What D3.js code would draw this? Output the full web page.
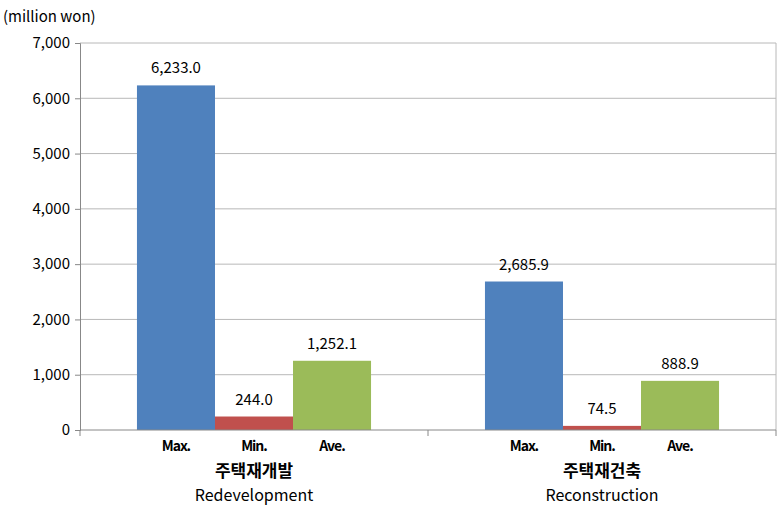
<!DOCTYPE html>
<html>
<head>
<meta charset="UTF-8">
<style>
  body { margin: 0; background: #fff; }
  text { font-family: "Noto Sans CJK KR", "Noto Sans", sans-serif; fill: #000; }
</style>
</head>
<body>
<svg></svg>
<script src="https://d3js.org/d3.v7.min.js"></script>
<script>
const width = 784, height = 510;
const groupsKo = ["주택재개발", "주택재건축"];
const groupsEn = ["Redevelopment", "Reconstruction"];
const series = ["Max.", "Min.", "Ave."];
const colors = ["#4F81BD", "#C0504D", "#9BBB59"];
const maxVals = [6233.0, 2685.9];
const minVals = [244.0, 74.5];
const aveVals = [1252.1, 888.9];
const yTicks = [0, 1000, 2000, 3000, 4000, 5000, 6000, 7000];

const values = [maxVals, minVals, aveVals];
const margin = {left: 80, right: 8, top: 43, bottom: 80};

const svg = d3.select("svg").attr("width", width).attr("height", height);

const x0 = d3.scaleBand().domain(groupsKo).range([margin.left, width - margin.right]).paddingInner(0).paddingOuter(0);
const x1 = d3.scaleBand().domain(series).range([0, x0.bandwidth()]).paddingOuter(0.73);
const y = d3.scaleLinear().domain([0, 7000]).range([height - margin.bottom, margin.top]);

// grid
svg.append("g").selectAll("line").data(yTicks.slice(1)).enter().append("line")
  .attr("x1", margin.left).attr("x2", width - margin.right)
  .attr("y1", d => y(d)).attr("y2", d => y(d))
  .attr("stroke", "#b8b8b8");
svg.append("line").attr("x1", width - margin.right).attr("x2", width - margin.right)
  .attr("y1", y(7000)).attr("y2", y(0)).attr("stroke", "#b8b8b8");

// y axis
const yAxis = svg.append("g").attr("transform", `translate(${margin.left},0)`)
  .call(d3.axisLeft(y).tickValues(yTicks).tickSize(5).tickFormat(d3.format(",")));
yAxis.selectAll("path, line").attr("stroke", "#888");
yAxis.selectAll("text").style("font-size", "15px").attr("dx", "-2");

// bars
groupsKo.forEach((g, gi) => {
  const grp = svg.append("g").attr("transform", `translate(${x0(g)},0)`);
  series.forEach((s, si) => {
    const v = values[si][gi];
    grp.append("rect")
      .attr("x", x1(s)).attr("width", x1.bandwidth())
      .attr("y", y(v)).attr("height", y(0) - y(v))
      .attr("fill", colors[si]);
    grp.append("text")
      .attr("x", x1(s) + x1.bandwidth() / 2).attr("y", y(v) - 12)
      .attr("text-anchor", "middle").style("font-size", "15px")
      .text(d3.format(",.1f")(v));
    grp.append("text")
      .attr("x", x1(s) + x1.bandwidth() / 2).attr("y", y(0) + 21)
      .attr("text-anchor", "middle").style("font-size", "14px")
      .style("font-weight", "bold").style("letter-spacing", "-1px")
      .text(s);
  });
  svg.append("text").attr("x", x0(g) + x0.bandwidth() / 2).attr("y", y(0) + 47)
    .attr("text-anchor", "middle").style("font-size", "17px").style("font-weight", "bold")
    .text(g);
  svg.append("text").attr("x", x0(g) + x0.bandwidth() / 2).attr("y", y(0) + 71)
    .attr("text-anchor", "middle").style("font-size", "16px")
    .text(groupsEn[gi]);
});

// x axis
svg.append("line").attr("x1", margin.left).attr("x2", width - margin.right)
  .attr("y1", y(0)).attr("y2", y(0)).attr("stroke", "#888");
svg.append("g").selectAll("line").data([margin.left, x0(groupsKo[1]), width - margin.right]).enter()
  .append("line").attr("x1", d => d).attr("x2", d => d)
  .attr("y1", y(0)).attr("y2", y(0) + 6).attr("stroke", "#888");

svg.append("text").attr("x", 3).attr("y", 22).style("font-size", "15px").text("(million won)");
</script>
</body>
</html>
